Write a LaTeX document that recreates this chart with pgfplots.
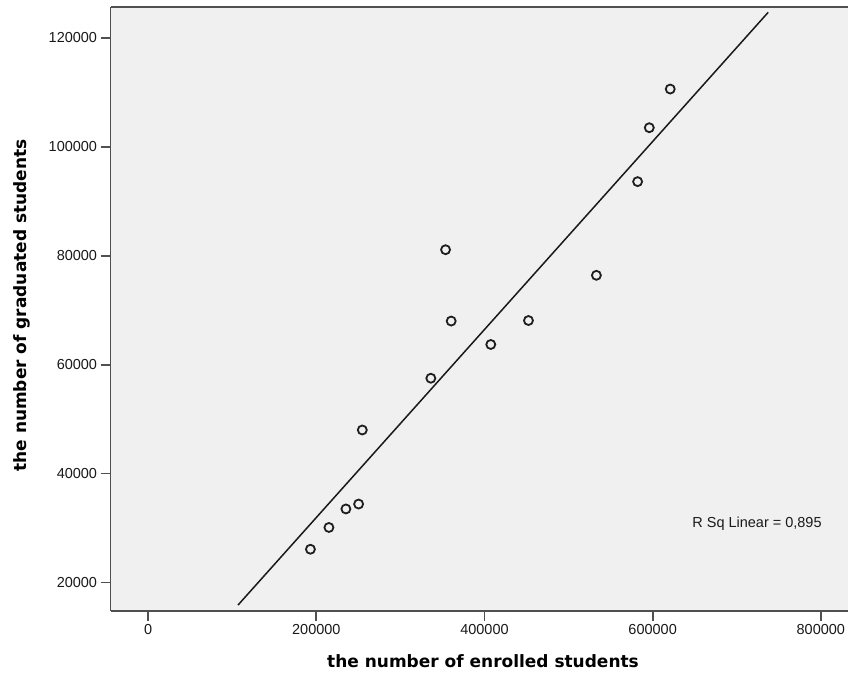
\documentclass[border=0pt]{standalone}
\usepackage{pgfplots}
\pgfplotsset{compat=1.18}
\usepackage{fontspec}
\setmainfont{Liberation Sans}
\newfontfamily\titlefont{DejaVu Sans}
\definecolor{bgc}{RGB}{240,240,240}
\definecolor{framec}{RGB}{80,80,80}
\definecolor{markc}{RGB}{30,30,30}
\begin{document}
\begin{tikzpicture}
\begin{axis}[
  scale only axis,
  width=738.3pt, height=604.4pt,
  xmin=-44669, xmax=832433,
  ymin=14754, ymax=125613,
  axis x line*=box, axis y line*=left,
  xtick pos=bottom, ytick pos=left,
  axis line style={framec, line width=1.8pt},
  axis background/.style={fill=bgc},
  xtick={0,200000,400000,600000,800000},
  xticklabels={0,200000,400000,600000,800000},
  ytick={20000,40000,60000,80000,100000,120000},
  yticklabels={20000,40000,60000,80000,100000,120000},
  tick align=outside,
  major tick length=10pt,
  tick style={framec, line width=1.8pt},
  scaled ticks=false,
  tick label style={font=\fontsize{14.5}{16}\selectfont, text=black!90},
  clip=false,
]
\addplot[black!90, line width=1.5pt] coordinates {(106900,15855) (737400,124685)};
\addplot[only marks, mark=o, mark size=4.5pt, mark options={markc, line width=1.8pt}] coordinates {
(193000,26100)
(215000,30100)
(235200,33500)
(250300,34400)
(254700,48000)
(336200,57500)
(353700,81100)
(360400,68000)
(407500,63700)
(452300,68100)
(533100,76400)
(582100,93600)
(596000,103500)
(620900,110600)
};
\node[anchor=west, inner sep=0pt, font=\fontsize{14.5}{16}\selectfont, text=black!90] at (axis cs:647000,30800) {R Sq Linear = 0,895};
\node[font=\titlefont\bfseries\fontsize{17}{19}\selectfont] at ([yshift=-50.3pt]rel axis cs:0.505,0) {the number of enrolled students};
\node[rotate=90, font=\titlefont\bfseries\fontsize{17}{19}\selectfont] at ([xshift=-88.7pt]rel axis cs:0,0.506) {the number of graduated students};
\path ([shift={(-110.7pt,-70.3pt)}]rel axis cs:0,0) rectangle ([shift={(0pt,7.3pt)}]rel axis cs:1,1);
\end{axis}
\end{tikzpicture}
\end{document}
